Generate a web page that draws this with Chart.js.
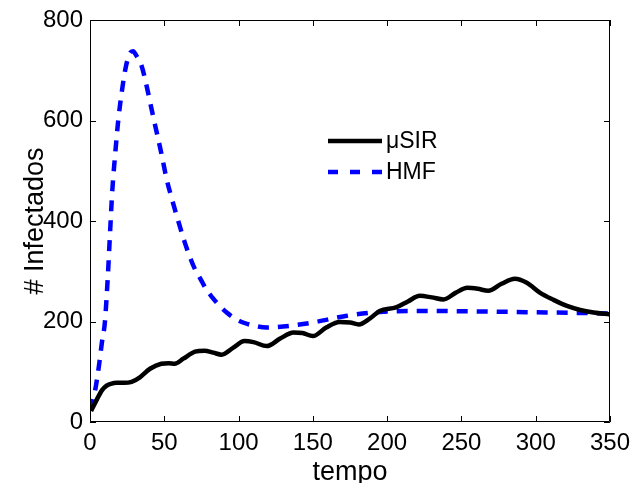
<!DOCTYPE html>
<html>
<head>
<meta charset="utf-8">
<script src="https://cdn.jsdelivr.net/npm/chart.js@4"></script>
<style>
    html, body { margin: 0; padding: 0; background: #fff; }
    #chart { display: block; }
</style>
</head>
<body>
<canvas id="chart" width="633" height="483"></canvas>
<script>
// values
const xTicks = [0, 50, 100, 150, 200, 250, 300, 350];
const yTicks = [0, 200, 400, 600, 800];

const sirTempo = [0.7, 4.5, 8, 11, 14, 18, 23, 28, 33.6, 40.4, 48, 53, 57, 62.8, 70.7, 77, 83, 88.6, 96.5, 104, 110, 119, 128, 137, 143, 150, 159, 168, 175, 181, 188, 195, 206, 214, 222, 230, 238, 246, 254, 261, 268, 277, 286, 294, 303, 312, 321, 330, 339, 350];
const sirInfectados = [22, 44, 63, 72, 76, 78, 78, 80, 89, 106, 116, 117, 116, 126, 140, 142, 138, 134, 148, 161, 159, 151, 166, 178, 177, 171, 188, 199, 198, 194, 205, 221, 228, 240, 251, 248, 244, 257, 267, 265, 261, 275, 285, 277, 257, 243, 231, 223, 218, 214];

const hmfTempo = [0.7, 4, 6.3, 8, 10, 12, 13.5, 15, 17, 19, 21.3, 24, 27, 29, 31, 34.8, 38, 41.5, 45, 48, 51.6, 55.5, 59.4, 63.5, 67.8, 71, 74.5, 78, 82.3, 87, 92, 97, 103, 110, 119, 130, 150, 172, 195, 217, 262, 307, 350];
const hmfInfectados = [24, 72, 118, 158, 198, 290, 377, 460, 535, 600, 655, 705, 735, 738, 730, 708, 670, 622, 575, 535, 483, 440, 400, 360, 324, 302, 284, 265, 248, 232, 218, 207, 198, 192, 188, 190, 198, 211, 219, 221, 220, 218, 216];

const seriesNames = ['\u03bcSIR', 'HMF'];
const seriesColors = ['#000000', '#0000ff'];

const toPoints = (xs, ys) => xs.map((x, i) => ({ x: x, y: ys[i] }));

const FONT = 'Liberation Sans, Arial, Helvetica, sans-serif';

// MATLAB style box with inward ticks on all four sides
const boxTicks = {
    id: 'boxTicks',
    afterDraw(chart) {
        const { ctx, chartArea: a, scales } = chart;
        const len = 6;
        ctx.save();
        ctx.strokeStyle = '#000';
        ctx.lineWidth = 1;
        ctx.beginPath();
        ctx.rect(a.left + 0.5, a.top + 0.5, a.right - a.left - 1, a.bottom - a.top - 1);
        xTicks.forEach(v => {
            const px = Math.round(scales.x.getPixelForValue(v)) + 0.5;
            ctx.moveTo(px, a.bottom);
            ctx.lineTo(px, a.bottom - len);
            ctx.moveTo(px, a.top);
            ctx.lineTo(px, a.top + len);
        });
        yTicks.forEach(v => {
            const py = Math.round(scales.y.getPixelForValue(v)) + 0.5;
            ctx.moveTo(a.left, py);
            ctx.lineTo(a.left + len, py);
            ctx.moveTo(a.right, py);
            ctx.lineTo(a.right - len, py);
        });
        ctx.stroke();
        ctx.restore();
    }
};

// legend box drawn inside the plot, like the original
const innerLegend = {
    id: 'innerLegend',
    afterDraw(chart) {
        const { ctx } = chart;
        const x0 = 328, x1 = 382;
        const rows = [141, 172];
        ctx.save();
        ctx.font = '23px ' + FONT;
        ctx.textBaseline = 'middle';
        ctx.fillStyle = '#000';
        rows.forEach((y, i) => {
            ctx.beginPath();
            ctx.strokeStyle = seriesColors[i];
            ctx.lineWidth = 4.5;
            ctx.setLineDash(i === 1 ? [10, 12] : []);
            ctx.moveTo(x0, y);
            ctx.lineTo(x1, y);
            ctx.stroke();
            ctx.fillText(seriesNames[i], 386, y + 1);
        });
        ctx.restore();
    }
};

new Chart(document.getElementById('chart'), {
    type: 'line',
    data: {
        datasets: [{
            label: seriesNames[0],
            data: toPoints(sirTempo, sirInfectados),
            borderColor: seriesColors[0],
            borderWidth: 4.5,
            pointRadius: 0,
            cubicInterpolationMode: 'monotone',
            fill: false
        }, {
            label: seriesNames[1],
            data: toPoints(hmfTempo, hmfInfectados),
            borderColor: seriesColors[1],
            borderWidth: 4.5,
            borderDash: [11, 9],
            pointRadius: 0,
            cubicInterpolationMode: 'monotone',
            fill: false
        }]
    },
    options: {
        responsive: false,
        animation: false,
        devicePixelRatio: 1,
        layout: { padding: { top: 20, right: 23, bottom: 0, left: 0 } },
        plugins: {
            legend: { display: false },
            tooltip: { enabled: false }
        },
        scales: {
            x: {
                type: 'linear',
                min: 0,
                max: 350,
                afterBuildTicks: s => { s.ticks = xTicks.map(v => ({ value: v })); },
                afterFit: s => { s.height = 61; s.paddingLeft = 0; s.paddingRight = 0; },
                grid: { display: false, drawTicks: false },
                border: { display: false },
                ticks: { color: '#000', padding: 7, maxRotation: 0, font: { family: FONT, size: 24 } },
                title: {
                    display: true,
                    text: 'tempo',
                    color: '#000',
                    padding: 0,
                    font: { family: FONT, size: 27, lineHeight: 0.8 }
                }
            },
            y: {
                min: 0,
                max: 800,
                afterBuildTicks: s => { s.ticks = yTicks.map(v => ({ value: v })); },
                afterFit: s => { s.width = 90; s.paddingTop = 0; s.paddingBottom = 0; },
                grid: { display: false, drawTicks: false },
                border: { display: false },
                ticks: { color: '#000', padding: 7, font: { family: FONT, size: 24 } },
                title: {
                    display: true,
                    text: '# Infectados',
                    color: '#000',
                    padding: { top: 19, bottom: 0 },
                    font: { family: FONT, size: 27, lineHeight: 1.2 }
                }
            }
        }
    },
    plugins: [boxTicks, innerLegend]
});
</script>
</body>
</html>
